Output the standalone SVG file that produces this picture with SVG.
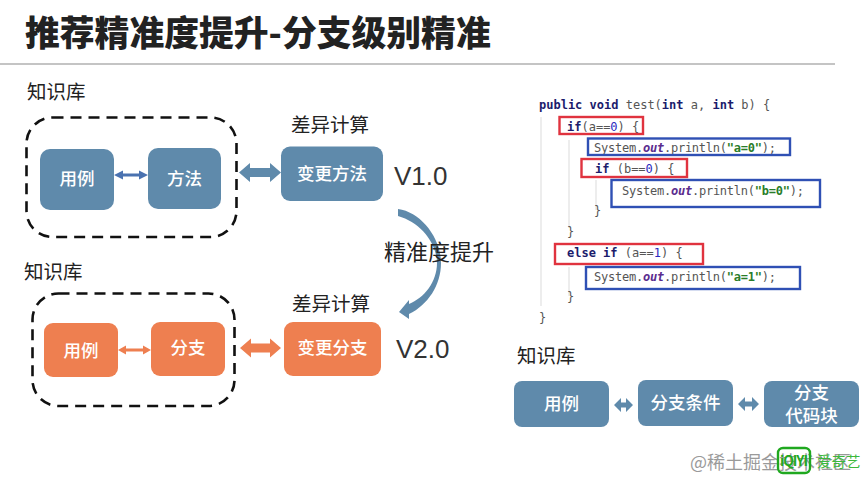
<svg xmlns="http://www.w3.org/2000/svg" width="866" height="489" viewBox="0 0 866 489">
<style>
text{font-family:"Noto Sans CJK SC","Liberation Sans",sans-serif}
.lb{font-size:19.5px;fill:#222}
.w{font-size:17.5px;font-weight:500;fill:#fff;text-anchor:middle}
.v{font-family:"Liberation Sans",sans-serif;font-size:26px;fill:#333}
.bl{fill:#5f8aab}
.or{fill:#ee7f50}
.dash{fill:none;stroke:#111;stroke-width:2.6;stroke-dasharray:11 7}
.r{fill:none;stroke:#e0333f;stroke-width:2.4}
.b{fill:none;stroke:#2f50b4;stroke-width:2.4}
.c{font-family:"DejaVu Sans Mono",monospace;font-size:12px;fill:#555;white-space:pre}
.k{font-weight:bold;fill:#1c1c6c}
.o{font-weight:bold;font-style:italic;fill:#5b2c8e}
.s{font-weight:bold;fill:#2a7d2a}
.n{fill:#2a2ac0}
.g{stroke:#e2e2e2;stroke-width:1.2;fill:none}
</style>
<rect width="866" height="489" fill="#fff"/>
<text x="25" y="46" font-size="34.800" font-weight="900" fill="#222">推荐精准度提升-分支级别精准</text>
<line x1="0" y1="64" x2="835" y2="64" stroke="#8a8a8a" stroke-width="1.2"/>
<text class="lb" x="27" y="99">知识库</text>
<text class="lb" x="24" y="279">知识库</text>
<text class="lb" x="517" y="363">知识库</text>
<text class="lb" x="291" y="132">差异计算</text>
<text class="lb" x="292" y="311">差异计算</text>
<text class="v" x="394" y="185">V1.0</text>
<text class="v" x="396" y="358">V2.0</text>
<rect class="dash" x="26.500" y="117.500" width="210" height="119.500" rx="26"/>
<rect class="dash" x="32.500" y="293.500" width="202" height="112.500" rx="26"/>
<g id="connectors">
<path class="bl" d="M114 175l9-4.500v3h16v-3l9 4.500-9 4.500v-3h-16v3z" style="fill:#4a72b0"/>
<path class="bl" d="M239 172.500l11-9.500v5h20v-5l11 9.500-11 9.500v-5h-20v5z"/>
<path class="or" d="M118 350l8-4.500v3h17v-3l8 4.500-8 4.500v-3h-17v3z"/>
<path class="or" d="M240 348l11-9.500v5h19v-5l11 9.500-11 9.500v-5h-19v5z"/>
<path class="bl" d="M614 405l7-7v4.500h5v-4.500l7 7-7 7v-4.500h-5v4.500z"/>
<path class="bl" d="M738 404l7-7v4.500h7v-4.500l7 7-7 7v-4.500h-7v4.500z"/>
<path class="bl" d="M398 209C421 212 441 238 441 263C441 285 428 305 409 314L409 319L399 312L409 300L409 304C424 298 437 282 437 263C437 243 420 222 398 216Z"/>
</g>
<g id="n1"><rect class="bl" x="40" y="149" width="74" height="61" rx="10"/><text class="w" x="77" y="185">用例</text></g>
<g id="n2"><rect class="bl" x="148" y="148" width="73" height="61" rx="10"/><text class="w" x="184.500" y="185">方法</text></g>
<g id="n3"><rect class="bl" x="281" y="146.500" width="102" height="54.500" rx="9"/><text class="w" x="332" y="180">变更方法</text></g>
<g id="n4"><rect class="or" x="44" y="323" width="74" height="54" rx="9"/><text class="w" x="81" y="357">用例</text></g>
<g id="n5"><rect class="or" x="151" y="322" width="74" height="54" rx="9"/><text class="w" x="188" y="354">分支</text></g>
<g id="n6"><rect class="or" x="284" y="322" width="97" height="54" rx="9"/><text class="w" x="332.500" y="354">变更分支</text></g>
<g id="n7"><rect class="bl" x="514" y="381" width="95" height="46" rx="8"/><text class="w" x="561.500" y="410">用例</text></g>
<g id="n8"><rect class="bl" x="638" y="380" width="95" height="46" rx="8"/><text class="w" x="685.500" y="409">分支条件</text></g>
<g id="n9"><rect class="bl" x="764" y="381" width="95" height="46" rx="8"/><text class="w" x="811.500" y="399">分支</text><text class="w" x="811.500" y="422">代码块</text></g>
<text x="384" y="260" font-size="22" fill="#222">精准度提升</text>
<g id="code">
<path class="g" d="M541 117V306M569 140V228M596 180V210M569 267V296"/>
<text class="c" x="539" y="109"><tspan class="k">public void</tspan> test(<tspan class="k">int</tspan> a, <tspan class="k">int</tspan> b) {</text>
<text class="c" x="567" y="131"><tspan class="k">if</tspan>(a==<tspan class="n">0</tspan>) {</text>
<text class="c" x="594" y="152" textLength="182">System.<tspan class="o">out</tspan>.println(<tspan class="s">"a=0"</tspan>);</text>
<text class="c" x="595" y="173"><tspan class="k">if</tspan> (b==<tspan class="n">0</tspan>) {</text>
<text class="c" x="622" y="195" textLength="182">System.<tspan class="o">out</tspan>.println(<tspan class="s">"b=0"</tspan>);</text>
<text class="c" x="594" y="215">}</text>
<text class="c" x="567" y="236">}</text>
<text class="c" x="567" y="257"><tspan class="k">else if</tspan> (a==<tspan class="n">1</tspan>) {</text>
<text class="c" x="594" y="281" textLength="182">System.<tspan class="o">out</tspan>.println(<tspan class="s">"a=1"</tspan>);</text>
<text class="c" x="567" y="301">}</text>
<text class="c" x="539" y="322">}</text>
<rect class="r" x="559.500" y="117" width="83.500" height="17"/>
<rect class="b" x="588" y="138.500" width="202" height="16.500"/>
<rect class="r" x="581.500" y="159" width="105.500" height="18"/>
<rect class="b" x="611.500" y="180" width="208.500" height="27"/>
<rect class="r" x="555" y="244" width="148" height="20"/>
<rect class="b" x="586" y="267" width="214" height="22"/>
</g>
<text x="690" y="469" font-size="18" fill="#9a9a9a">@稀土掘金技术社区</text>
<rect x="778" y="448" width="32" height="25" rx="5" fill="none" stroke="#1fa81f" stroke-width="2.4"/>
<text x="780" y="466" font-family="Liberation Sans,sans-serif" font-size="14" font-weight="700" fill="#1fa81f" textLength="28">iQIYI</text>
<text x="817" y="467" font-size="14.500" fill="#3cb83c">爱奇艺</text>
</svg>
